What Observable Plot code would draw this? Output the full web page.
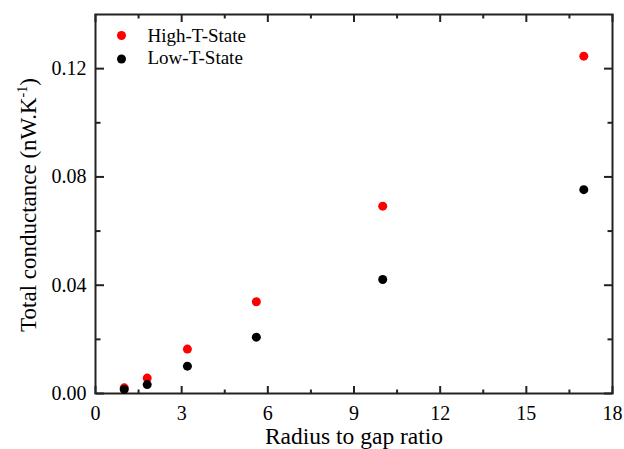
<!DOCTYPE html>
<html><head><meta charset="utf-8">
<script src="https://cdn.jsdelivr.net/npm/d3@7"></script>
<script src="https://cdn.jsdelivr.net/npm/@observablehq/plot@0.6"></script>
<style>html,body{margin:0;padding:0;background:#fff}</style>
</head><body><div id="chart"></div>
<script>
const ratio = [1, 1.8, 3.2, 5.6, 10, 17];
const highT = [0.0021, 0.0057, 0.0164, 0.0339, 0.0692, 0.1246];
const lowT = [0.0015, 0.0033, 0.0101, 0.0208, 0.0421, 0.0753];
const seriesNames = ["High-T-State", "Low-T-State"];
const seriesColors = ["#ff0000", "#000000"];
const xTicks = [0, 3, 6, 9, 12, 15, 18];
const xMinorTicks = [1.5, 4.5, 7.5, 10.5, 13.5, 16.5];
const yTicks = [0, 0.04, 0.08, 0.12];
const yMinorTicks = [0.02, 0.06, 0.10];
const xLabel = "Radius to gap ratio";
const yLabelMain = "Total conductance (nW.K";
const yLabelSup = "-1";
const yLabelEnd = ")";

const seriesValues = [highT, lowT];
const rows = seriesNames.flatMap((name, i) =>
  ratio.map((r, j) => ({ratio: r, value: seriesValues[i][j], series: name})));

const W = 624, H = 449;
const mL = 95, mR = 12, mT = 14, mB = 56;
const fw = W - mL - mR, fh = H - mT - mB;
const major = 8, minor = 4.5;
const tickStyle = {fill: "none", stroke: "#222", strokeWidth: 2, label: null};

const font = "'Liberation Serif', 'Times New Roman', serif";
const fmtY = d3.format(".2f");

// inward ticks: an axis anchored on the opposite side, shifted across the frame
const inwardTicks = (vals, len) => [
  Plot.axisX(vals, {anchor: "top", tickSize: len, dy: fh, ...tickStyle}),
  Plot.axisX(vals, {anchor: "bottom", tickSize: len, dy: -fh, ...tickStyle}),
  Plot.axisY(vals === xTicks || vals === xMinorTicks ? [] : vals, {anchor: "right", tickSize: len, dx: -fw, ...tickStyle}),
  Plot.axisY(vals === xTicks || vals === xMinorTicks ? [] : vals, {anchor: "left", tickSize: len, dx: fw, ...tickStyle})
];

const plot = Plot.plot({
  width: W, height: H, marginLeft: mL, marginRight: mR, marginTop: mT, marginBottom: mB,
  style: {fontFamily: font, fontSize: "20px", color: "#000", background: "#fff", overflow: "visible"},
  x: {domain: [0, 18]},
  y: {domain: [0, 0.14]},
  color: {domain: seriesNames, range: seriesColors},
  marks: [
    Plot.axisX(xTicks, {anchor: "bottom", tickSize: 0, tickPadding: 12, label: null, tickFormat: d => d, fontSize: 20}),
    Plot.axisY(yTicks, {anchor: "left", tickSize: 0, tickPadding: 9, label: null, tickFormat: fmtY, fontSize: 20}),
    // inward x ticks (top and bottom)
    Plot.axisX(xTicks, {anchor: "top", tickSize: major, dy: fh, ...tickStyle}),
    Plot.axisX(xTicks, {anchor: "bottom", tickSize: major, dy: -fh, ...tickStyle}),
    Plot.axisX(xMinorTicks, {anchor: "top", tickSize: minor, dy: fh, ...tickStyle}),
    Plot.axisX(xMinorTicks, {anchor: "bottom", tickSize: minor, dy: -fh, ...tickStyle}),
    // inward y ticks (left and right)
    Plot.axisY(yTicks, {anchor: "right", tickSize: major, dx: -fw, ...tickStyle}),
    Plot.axisY(yTicks, {anchor: "left", tickSize: major, dx: fw, ...tickStyle}),
    Plot.axisY(yMinorTicks, {anchor: "right", tickSize: minor, dx: -fw, ...tickStyle}),
    Plot.axisY(yMinorTicks, {anchor: "left", tickSize: minor, dx: fw, ...tickStyle}),
    Plot.frame({stroke: "#222", strokeWidth: 2}),
    Plot.dot(rows, {x: "ratio", y: "value", fill: "series", r: 4.5}),
    ...seriesNames.map((name, i) => Plot.dot([name], {frameAnchor: "top-left", dx: 26, dy: 21 + 23.5 * i, r: 4.5, fill: seriesColors[i]})),
    ...seriesNames.map((name, i) => Plot.text([name], {frameAnchor: "top-left", lineAnchor: "middle", dx: 52, dy: 21 + 22.5 * i, text: d => d, textAnchor: "start", fontSize: 19, fill: "#000"})),
    Plot.text([xLabel], {frameAnchor: "bottom", lineAnchor: "middle", dy: 42.5, text: d => d, fontSize: 23.5, fill: "#000"})
  ]
});

document.getElementById("chart").appendChild(plot);

// y title with superscript
const svg = d3.select(plot);
const t = svg.append("text")
  .attr("transform", "translate(36,205) rotate(-90)")
  .attr("text-anchor", "middle")
  .attr("font-family", font)
  .attr("font-size", 23)
  .attr("fill", "#000");
t.append("tspan").text(yLabelMain);
t.append("tspan").attr("font-size", 14).attr("dy", -9).text(yLabelSup);
t.append("tspan").attr("dy", 9).text(yLabelEnd);
</script>
</body></html>
